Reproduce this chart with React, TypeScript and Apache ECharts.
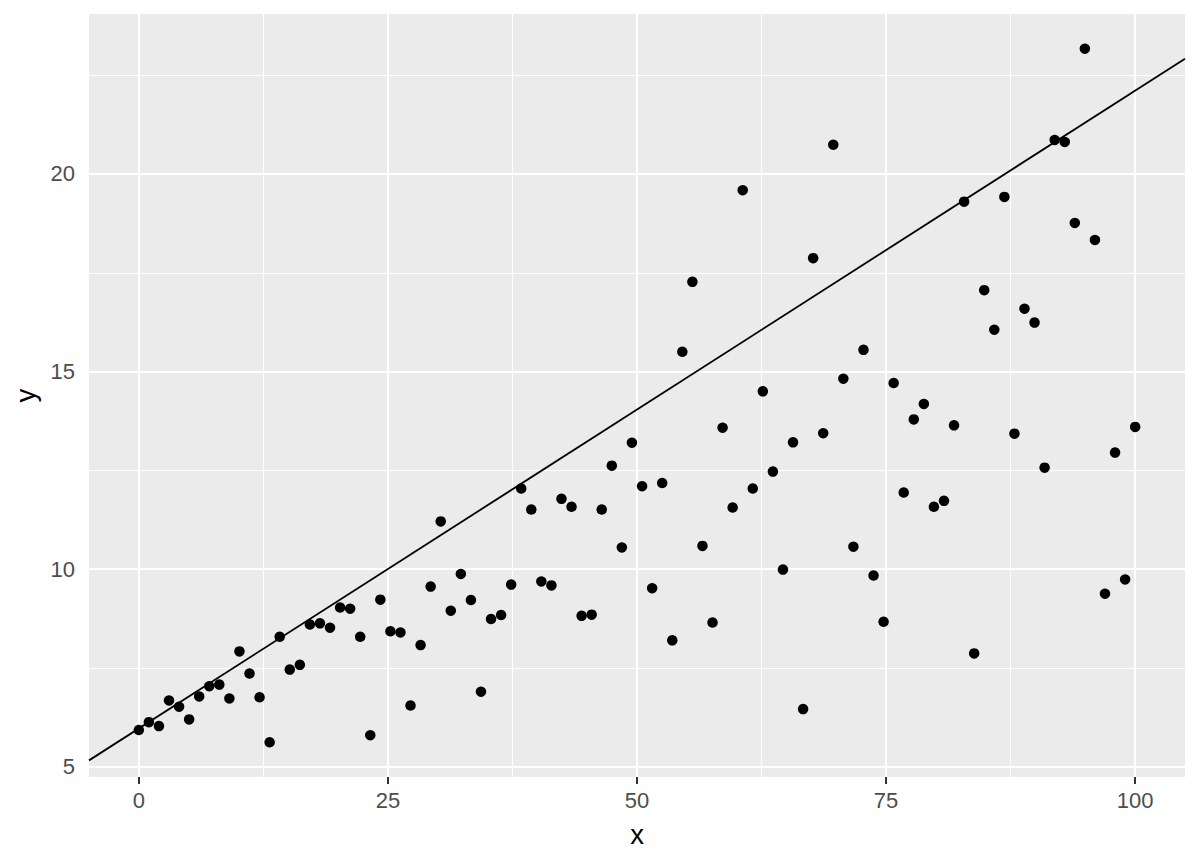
import { useEffect, useRef } from 'react';
import * as echarts from 'echarts';

// x = seq(0, 100, length.out = 100)
const xValues = [
  0, 1.01, 2.02, 3.03, 4.04, 5.05, 6.06, 7.07, 8.08, 9.09,
  10.1, 11.11, 12.12, 13.13, 14.14, 15.15, 16.16, 17.17, 18.18, 19.19,
  20.2, 21.21, 22.22, 23.23, 24.24, 25.25, 26.26, 27.27, 28.28, 29.29,
  30.3, 31.31, 32.32, 33.33, 34.34, 35.35, 36.36, 37.37, 38.38, 39.39,
  40.4, 41.41, 42.42, 43.43, 44.44, 45.45, 46.46, 47.47, 48.48, 49.49,
  50.51, 51.52, 52.53, 53.54, 54.55, 55.56, 56.57, 57.58, 58.59, 59.6,
  60.61, 61.62, 62.63, 63.64, 64.65, 65.66, 66.67, 67.68, 68.69, 69.7,
  70.71, 71.72, 72.73, 73.74, 74.75, 75.76, 76.77, 77.78, 78.79, 79.8,
  80.81, 81.82, 82.83, 83.84, 84.85, 85.86, 86.87, 87.88, 88.89, 89.9,
  90.91, 91.92, 92.93, 93.94, 94.95, 95.96, 96.97, 97.98, 98.99, 100
];

const yValues = [
  5.93, 6.13, 6.03, 6.68, 6.52, 6.2, 6.78, 7.04, 7.08, 6.73,
  7.92, 7.36, 6.76, 5.62, 8.29, 7.46, 7.58, 8.6, 8.63, 8.52,
  9.03, 9.0, 8.29, 5.8, 9.23, 8.43, 8.4, 6.55, 8.08, 9.56,
  11.21, 8.95, 9.88, 9.22, 6.9, 8.74, 8.84, 9.61, 12.04, 11.51,
  9.69, 9.59, 11.78, 11.58, 8.82, 8.85, 11.51, 12.62, 10.55, 13.2,
  12.1, 9.52, 12.18, 8.2, 15.5, 17.27, 10.59, 8.65, 13.58, 11.56,
  19.59, 12.04, 14.5, 12.47, 9.99, 13.21, 6.46, 17.87, 13.44, 20.74,
  14.82, 10.57, 15.55, 9.84, 8.67, 14.71, 11.94, 13.79, 14.18, 11.58,
  11.73, 13.64, 19.3, 7.87, 17.06, 16.06, 19.42, 13.43, 16.59, 16.24,
  12.57, 20.86, 20.81, 18.76, 23.17, 18.33, 9.38, 12.95, 9.74, 13.6
];

const lineIntercept = 5.97;
const lineSlope = 0.1614;

const xBreaks = [0, 25, 50, 75, 100];
const xMinorBreaks = [12.5, 37.5, 62.5, 87.5];
const yBreaks = [5, 10, 15, 20];
const yMinorBreaks = [7.5, 12.5, 17.5, 22.5];

// ggplot-style 5% expansion
const expand = (lo: number, hi: number) => {
  const pad = (hi - lo) * 0.05;
  return [lo - pad, hi + pad];
};

const FONT = 'Liberation Sans, Arial, sans-serif';

export default function App() {
  const ref = useRef<HTMLDivElement>(null);

  useEffect(() => {
    if (!ref.current) return;
    const chart = echarts.init(ref.current, null, { renderer: 'svg' });

    const [xMin, xMax] = expand(Math.min(...xValues), Math.max(...xValues));
    const [yMin, yMax] = expand(Math.min(...yValues), Math.max(...yValues));

    const gridLines = [
      ...xBreaks.map((v) => ({ xAxis: v })),
      ...yBreaks.map((v) => ({ yAxis: v })),
      ...xMinorBreaks.map((v) => ({ xAxis: v, lineStyle: { width: 1 } })),
      ...yMinorBreaks.map((v) => ({ yAxis: v, lineStyle: { width: 1 } }))
    ];

    const axisCommon = {
      type: 'value',
      axisLine: { show: false },
      axisTick: { show: true, length: 7, lineStyle: { color: '#333333', width: 2 } },
      splitLine: { show: false },
      nameLocation: 'middle',
      nameTextStyle: { color: '#000000', fontSize: 27.5, fontFamily: FONT }
    };

    chart.setOption({
      animation: false,
      grid: {
        left: 89,
        top: 14,
        right: 15,
        bottom: 87,
        show: true,
        backgroundColor: '#EBEBEB',
        borderWidth: 0
      },
      xAxis: {
        ...axisCommon,
        min: xMin,
        max: xMax,
        name: 'x',
        nameGap: 43,
        axisTick: { ...axisCommon.axisTick, customValues: xBreaks },
        axisLabel: {
          customValues: xBreaks,
          color: '#4D4D4D',
          fontSize: 22,
          fontFamily: FONT,
          margin: 12
        }
      },
      yAxis: {
        ...axisCommon,
        min: yMin,
        max: yMax,
        name: 'y',
        nameGap: 42,
        axisTick: { ...axisCommon.axisTick, customValues: yBreaks },
        axisLabel: {
          customValues: yBreaks,
          color: '#4D4D4D',
          fontSize: 22,
          fontFamily: FONT,
          margin: 14
        }
      },
      series: [
        {
          type: 'line',
          data: [
            [xMin, lineIntercept + lineSlope * xMin],
            [xMax, lineIntercept + lineSlope * xMax]
          ],
          showSymbol: false,
          symbol: 'none',
          lineStyle: { color: '#000000', width: 1.8 },
          z: 3,
          silent: true,
          markLine: {
            silent: true,
            z: 1,
            symbol: ['none', 'none'],
            label: { show: false },
            emphasis: { disabled: true },
            lineStyle: { color: '#FFFFFF', width: 2, type: 'solid' },
            data: gridLines
          }
        },
        {
          type: 'scatter',
          data: xValues.map((x, i) => [x, yValues[i]]),
          symbol: 'circle',
          symbolSize: 10.5,
          itemStyle: { color: '#000000', opacity: 1 },
          z: 2
        }
      ]
    });

    return () => chart.dispose();
  }, []);

  return (
    <div
      ref={ref}
      style={{ position: 'absolute', left: 0, top: 0, width: 1200, height: 864, background: '#FFFFFF' }}
    />
  );
}
